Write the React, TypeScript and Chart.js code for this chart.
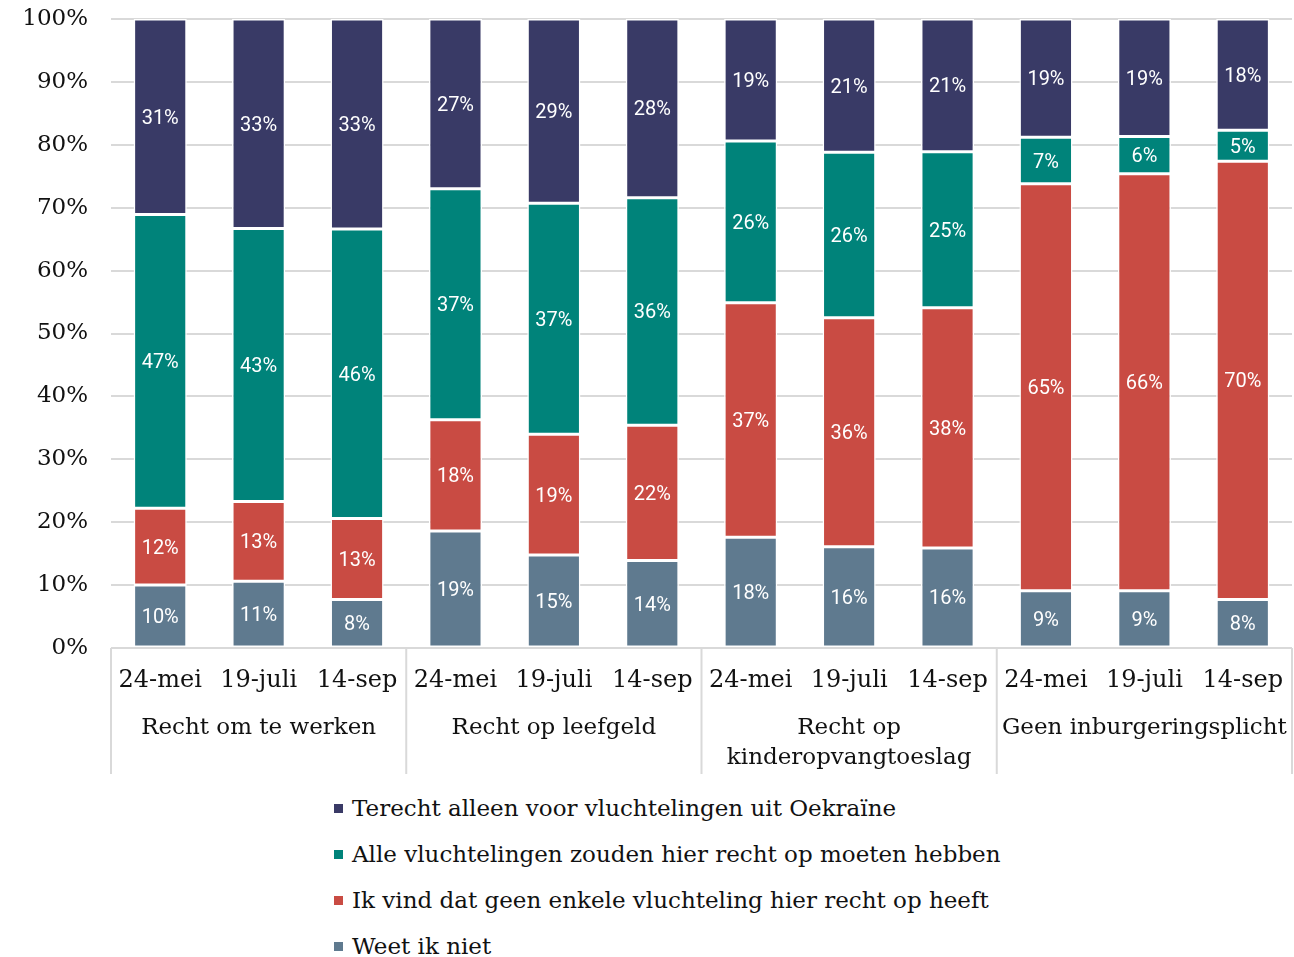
import { useEffect, useRef } from 'react';
import { Chart, registerables } from 'chart.js';
Chart.register(...registerables);

const dates = ['24-mei', '19-juli', '14-sep', '24-mei', '19-juli', '14-sep', '24-mei', '19-juli', '14-sep', '24-mei', '19-juli', '14-sep'];
const groups: (string | string[])[] = ['Recht om te werken', 'Recht op leefgeld', ['Recht op', 'kinderopvangtoeslag'], 'Geen inburgeringsplicht'];

const weetNiet = [10.0, 10.6, 7.7, 18.6, 14.8, 13.9, 17.6, 16.1, 15.9, 9.1, 9.1, 7.7];
const geenRecht = [12.2, 12.7, 12.9, 17.7, 19.2, 21.5, 37.3, 36.4, 38.2, 64.7, 66.3, 69.7];
const alleRecht = [46.7, 43.4, 46.0, 36.7, 36.7, 36.2, 25.7, 26.3, 24.8, 7.4, 5.9, 4.9];
const alleenOekraine = [31.1, 33.3, 33.4, 27.0, 29.3, 28.4, 19.4, 21.2, 21.1, 18.8, 18.7, 17.7];

const seriesNames = [
  'Weet ik niet',
  'Ik vind dat geen enkele vluchteling hier recht op heeft',
  'Alle vluchtelingen zouden hier recht op moeten hebben',
  'Terecht alleen voor vluchtelingen uit Oekraïne',
];
const seriesColors = ['#5f7a8f', '#c94b43', '#00837a', '#393a66'];
const yTicks = [0, 10, 20, 30, 40, 50, 60, 70, 80, 90, 100];

const SERIF = '"DejaVu Serif", serif';

const labelPlugin = {
  id: 'segLabels',
  afterDatasetsDraw(chart: any) {
    const ctx = chart.ctx;
    ctx.save();
    ctx.fillStyle = '#ffffff';
    ctx.font = '20px Roboto, sans-serif';
    ctx.textAlign = 'center';
    ctx.textBaseline = 'middle';
    chart.data.datasets.forEach((ds: any, di: number) => {
      const meta = chart.getDatasetMeta(di);
      meta.data.forEach((el: any, i: number) => {
        const v = ds.data[i];
        const y = (el.y + el.base) / 2 + 2;
        ctx.fillText(Math.round(v) + '%', el.x, y);
      });
    });
    ctx.restore();
  },
};

const separatorPlugin = {
  id: 'groupSeparators',
  afterDraw(chart: any) {
    const ctx = chart.ctx;
    const x = chart.scales.x;
    const step = x.width / dates.length;
    const top = chart.chartArea.bottom;
    ctx.save();
    ctx.strokeStyle = '#d9d9d9';
    ctx.lineWidth = 2;
    for (let g = 0; g <= groups.length; g++) {
      const px = x.left + g * 3 * step;
      ctx.beginPath();
      ctx.moveTo(px, top);
      ctx.lineTo(px, top + 126);
      ctx.stroke();
    }
    ctx.restore();
  },
};

const noPad = (s: any) => {
  s.paddingTop = 0;
  s.paddingBottom = 0;
  s.paddingLeft = 0;
  s.paddingRight = 0;
};

export default function App() {
  const ref = useRef<HTMLCanvasElement>(null);
  useEffect(() => {
    const data = [weetNiet, geenRecht, alleRecht, alleenOekraine];
    const chart = new Chart(ref.current!, {
      type: 'bar',
      data: {
        labels: dates,
        datasets: data.map((d, i) => ({
          label: seriesNames[i],
          data: d,
          backgroundColor: seriesColors[i],
          borderColor: '#ffffff',
          borderWidth: 1.5,
          borderSkipped: false,
          barPercentage: 0.54,
          categoryPercentage: 1,
        })),
      },
      options: {
        animation: false,
        responsive: true,
        maintainAspectRatio: false,
        layout: { padding: { top: 19, right: 2, left: 0, bottom: 0 } },
        plugins: { legend: { display: false }, tooltip: { enabled: false } },
        scales: {
          x: {
            stacked: true,
            weight: 0,
            grid: { display: false, drawTicks: false },
            border: { display: false },
            ticks: { font: { family: SERIF, size: 24 }, color: '#111', padding: 18, maxRotation: 0, autoSkip: false },
            afterFit: (s: any) => { s.height = 46; noPad(s); },
          },
          x2: {
            type: 'category',
            position: 'bottom',
            weight: 1,
            labels: groups as any,
            offset: true,
            grid: { display: false, drawTicks: false },
            border: { display: false },
            ticks: { font: { family: SERIF, size: 23, lineHeight: 1.3 }, color: '#111', padding: 19, maxRotation: 0, autoSkip: false },
            afterFit: (s: any) => { s.height = 88; noPad(s); },
          },
          y: {
            stacked: true,
            min: 0,
            max: 100,
            afterBuildTicks: (s: any) => { s.ticks = yTicks.map((v) => ({ value: v })); },
            grid: { color: '#d9d9d9', lineWidth: 2, drawTicks: false },
            border: { display: false },
            ticks: { font: { family: SERIF, size: 23 }, color: '#111', padding: 23, callback: (v: any) => v + '%' },
            afterFit: (s: any) => { s.width = 111; noPad(s); },
          },
        },
      },
      plugins: [labelPlugin, separatorPlugin],
    } as any);
    return () => chart.destroy();
  }, []);

  const legendOrder = [3, 2, 1, 0];
  return (
    <div style={{ position: 'fixed', left: 0, top: 0, width: 1294, height: 957, background: '#fff', overflow: 'hidden' }}>
      <div style={{ position: 'relative', width: 1294, height: 782 }}>
        <canvas ref={ref} />
      </div>
      <div style={{ position: 'absolute', left: 334, top: 785, fontFamily: SERIF, fontSize: 23, color: '#111' }}>
        {legendOrder.map((i) => (
          <div key={i} style={{ height: 46, display: 'flex', alignItems: 'center' }}>
            <span style={{ display: 'inline-block', width: 9, height: 9, background: seriesColors[i], marginRight: 9 }} />
            <span>{seriesNames[i]}</span>
          </div>
        ))}
      </div>
    </div>
  );
}
